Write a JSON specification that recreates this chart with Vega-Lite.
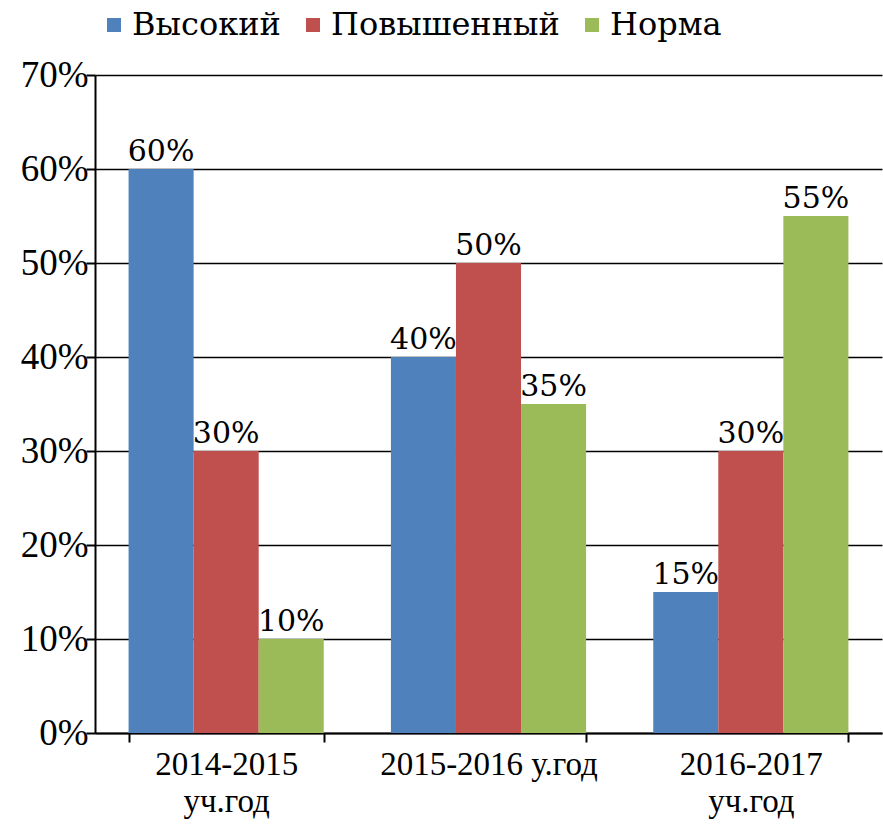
{
  "$schema": "https://vega.github.io/schema/vega-lite/v6.json",
  "autosize": "none",
  "width": 787,
  "height": 658,
  "padding": {"left": 95, "top": 75, "right": 1, "bottom": 97},
  "background": "white",
  "config": {
    "view": {"stroke": null},
    "font": "Liberation Serif"
  },
  "data": {
    "values": [
      {"year": "2014-2015|уч.год", "level": "Высокий", "value": 0.60},
      {"year": "2014-2015|уч.год", "level": "Повышенный", "value": 0.30},
      {"year": "2014-2015|уч.год", "level": "Норма", "value": 0.10},
      {"year": "2015-2016 у.год", "level": "Высокий", "value": 0.40},
      {"year": "2015-2016 у.год", "level": "Повышенный", "value": 0.50},
      {"year": "2015-2016 у.год", "level": "Норма", "value": 0.35},
      {"year": "2016-2017|уч.год", "level": "Высокий", "value": 0.15},
      {"year": "2016-2017|уч.год", "level": "Повышенный", "value": 0.30},
      {"year": "2016-2017|уч.год", "level": "Норма", "value": 0.55}
    ]
  },
  "encoding": {
    "x": {
      "field": "year",
      "type": "nominal",
      "sort": null,
      "title": null,
      "scale": {"paddingInner": 0.256, "paddingOuter": 0.128},
      "axis": {
        "labelExpr": "split(datum.label, '|')",
        "labelAngle": 0,
        "labelFont": "Liberation Serif",
        "labelFontSize": 33,
        "labelColor": "black",
        "labelLineHeight": 37,
        "labelPadding": 6,
        "labelLimit": 0,
        "tickBand": "extent",
        "tickSize": 9,
        "tickWidth": 2,
        "tickColor": "black",
        "domainColor": "black",
        "domainWidth": 2
      }
    },
    "xOffset": {"field": "level", "type": "nominal", "sort": ["Высокий", "Повышенный", "Норма"]},
    "y": {
      "field": "value",
      "type": "quantitative",
      "title": null,
      "scale": {"domain": [0, 0.7], "nice": false},
      "axis": {
        "values": [0, 0.1, 0.2, 0.3, 0.4, 0.5, 0.6, 0.7],
        "format": ".0%",
        "labelFont": "Liberation Serif",
        "labelFontSize": 37,
        "labelColor": "black",
        "labelPadding": -2,
        "tickSize": 9,
        "tickWidth": 2,
        "tickColor": "black",
        "domainColor": "black",
        "domainWidth": 2,
        "grid": true,
        "gridColor": "black",
        "gridWidth": 1.5,
        "gridOpacity": 1
      }
    }
  },
  "layer": [
    {
      "mark": {"type": "bar"},
      "encoding": {
        "color": {
          "field": "level",
          "type": "nominal",
          "sort": ["Высокий", "Повышенный", "Норма"],
          "scale": {"domain": ["Высокий", "Повышенный", "Норма"], "range": ["#4F81BD", "#C0504D", "#9BBB59"]},
          "legend": {
            "title": null,
            "orient": "none",
            "direction": "horizontal",
            "legendX": 3,
            "legendY": -66,
            "symbolType": "square",
            "symbolSize": 196,
            "symbolStrokeWidth": 0,
            "symbolOpacity": 1,
            "labelFont": "DejaVu Serif",
            "labelFontSize": 32,
            "labelColor": "black",
            "labelOffset": 2,
            "labelLimit": 0,
            "columnPadding": 16
          }
        }
      }
    },
    {
      "mark": {"type": "text", "baseline": "bottom", "dy": -2, "fontSize": 30, "color": "black", "font": "DejaVu Serif"},
      "encoding": {
        "text": {"field": "value", "type": "quantitative", "format": ".0%"}
      }
    }
  ]
}
